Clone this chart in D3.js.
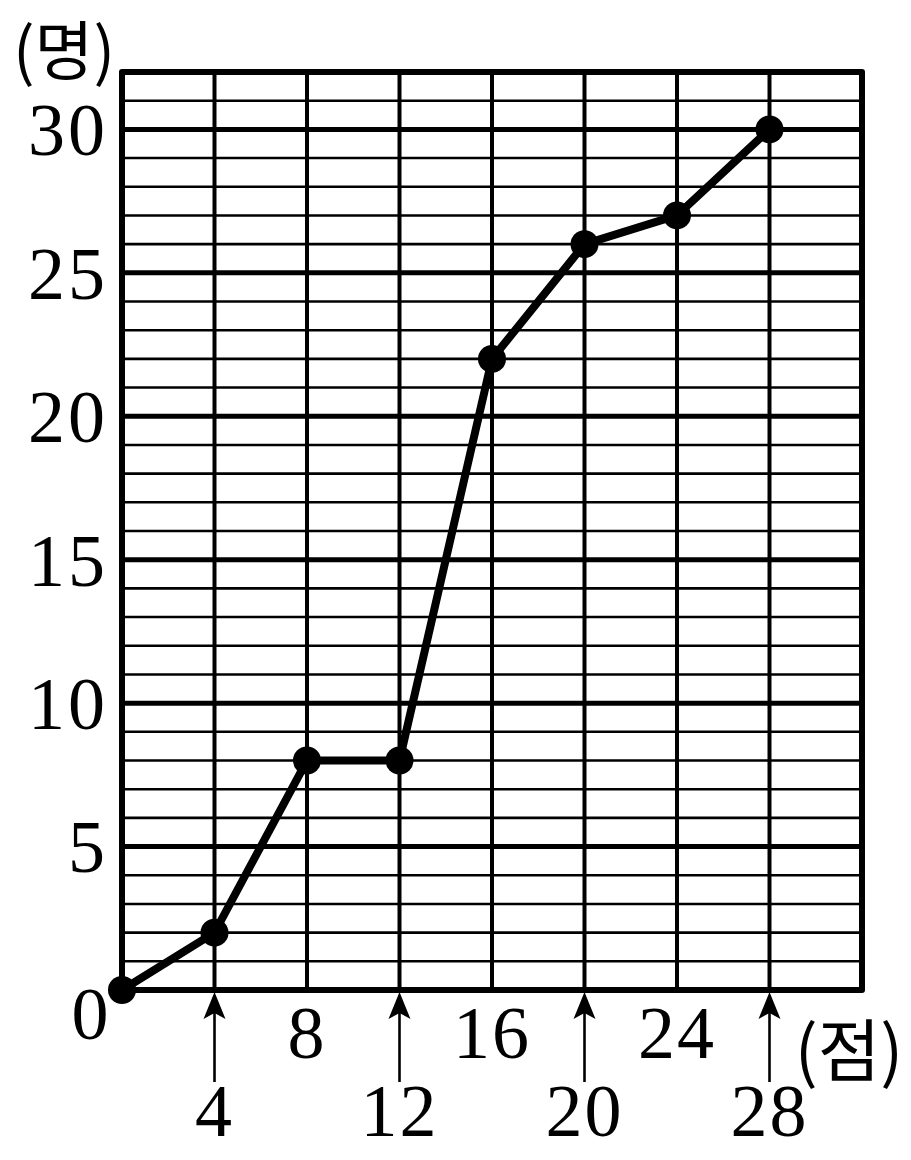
<!DOCTYPE html>
<html><head><meta charset="utf-8">
<script src="https://cdn.jsdelivr.net/npm/d3@7"></script>
<style>html,body{margin:0;padding:0;background:#fff;}</style>
</head><body>
<script>
const scores = [0, 4, 8, 12, 16, 20, 24, 28];
const counts = [0, 2, 8, 8, 22, 26, 27, 30];
const yTickLabels = [5, 10, 15, 20, 25, 30];
const xTickLabels = [4, 8, 12, 16, 20, 24, 28];
const xUnit = "(점)";
const yUnit = "(명)";

const W = 911, H = 1160;
const svg = d3.select("body").append("svg").attr("width", W).attr("height", H);
const x = d3.scaleLinear().domain([0, 32]).range([122, 862]);
const y = d3.scaleLinear().domain([0, 32]).range([990, 72]);
const numFont = "'Liberation Serif', 'DejaVu Serif', serif";

// horizontal grid lines
const hs = d3.range(1, 32);
svg.append("g").selectAll("line").data(hs).join("line")
  .attr("x1", x(0)).attr("x2", x(32))
  .attr("y1", d => y(d)).attr("y2", d => y(d))
  .attr("stroke", "#000")
  .attr("stroke-width", d => d % 5 === 0 ? 5 : 2.6);

// vertical grid lines
svg.append("g").selectAll("line").data(d3.range(4, 32, 4)).join("line")
  .attr("x1", d => x(d)).attr("x2", d => x(d))
  .attr("y1", y(0)).attr("y2", y(32))
  .attr("stroke", "#000").attr("stroke-width", 4);

// frame
svg.append("rect")
  .attr("x", x(0)).attr("y", y(32))
  .attr("width", x(32) - x(0)).attr("height", y(0) - y(32))
  .attr("fill", "none").attr("stroke", "#000").attr("stroke-width", 6)
  .attr("stroke-linejoin", "round");

// y labels
svg.append("g").selectAll("text").data(yTickLabels).join("text")
  .attr("x", 108).attr("y", d => y(d))
  .attr("dy", "0.35em")
  .attr("text-anchor", "end")
  .attr("font-family", numFont).attr("font-size", 74)
  .attr("letter-spacing", 3)
  .text(d => d);

// origin label
svg.append("text").attr("x", 90).attr("y", 1013).attr("dy", "0.35em")
  .attr("text-anchor", "middle").attr("font-family", numFont).attr("font-size", 74)
  .text("0");

// x labels: alternate rows; lower row has arrows
const xg = svg.append("g");
xTickLabels.forEach((v, i) => {
  const low = i % 2 === 0;
  const cx = x(v);
  if (low) {
    xg.append("line").attr("x1", cx).attr("x2", cx)
      .attr("y1", 1012).attr("y2", 1082)
      .attr("stroke", "#000").attr("stroke-width", 2.6);
    xg.append("path")
      .attr("d", `M${cx},${y(0) + 2} L${cx - 11},${1019} L${cx},${1013} L${cx + 11},${1019} Z`)
      .attr("fill", "#000");
  }
  xg.append("text").attr("x", cx).attr("y", low ? 1110 : 1032)
    .attr("dy", "0.35em").attr("text-anchor", "middle")
    .attr("font-family", numFont).attr("font-size", 74)
    .attr("letter-spacing", 2)
    .text(v);
});

// units
svg.append("text").attr("x", 849).attr("y", 1046)
  .attr("dominant-baseline", "central")
  .attr("text-anchor", "middle")
  .attr("font-family", "'Noto Sans CJK KR', sans-serif").attr("font-size", 68)
  .text(xUnit);
svg.append("text").attr("x", 64).attr("y", 46)
  .attr("dominant-baseline", "central")
  .attr("text-anchor", "middle")
  .attr("font-family", "'Noto Sans CJK KR', sans-serif").attr("font-size", 64)
  .text(yUnit);

// data line
const pts = scores.map((s, i) => [s, counts[i]]);
svg.append("path").datum(pts)
  .attr("d", d3.line().x(d => x(d[0])).y(d => y(d[1])))
  .attr("fill", "none").attr("stroke", "#000").attr("stroke-width", 8)
  .attr("stroke-linejoin", "round");
svg.append("g").selectAll("circle").data(pts).join("circle")
  .attr("cx", d => x(d[0])).attr("cy", d => y(d[1])).attr("r", 14)
  .attr("fill", "#000");
</script>
</body></html>
